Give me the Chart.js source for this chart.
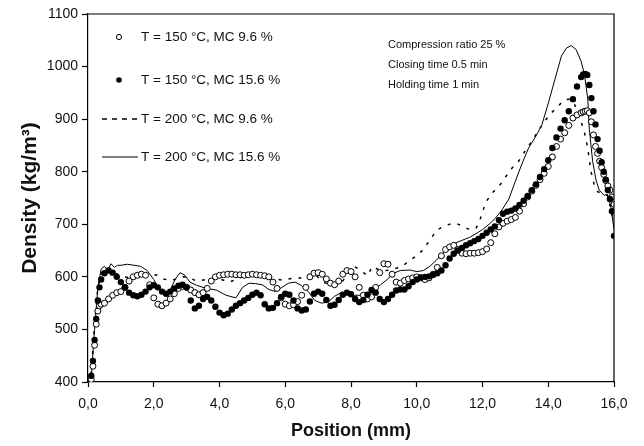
<!DOCTYPE html>
<html>
<head>
<meta charset="utf-8">
<script src="https://cdn.jsdelivr.net/npm/chart.js@4.4.1/dist/chart.umd.min.js"></script>
<style>
html,body{margin:0;padding:0;background:#fff;}
#wrap{width:644px;height:446px;position:relative;}
</style>
</head>
<body>
<div id="wrap"><canvas id="c" width="644" height="446"></canvas></div>
<script>
// ---- DATA ----
const seriesNames = [
  'T = 150 °C, MC 9.6 %',
  'T = 150 °C, MC 15.6 %',
  'T = 200 °C, MC 9.6 %',
  'T = 200 °C, MC 15.6 %'
];
const annotations = ['Compression ratio 25 %', 'Closing time 0.5 min', 'Holding time 1 min'];
const xTickLabels = ['0,0','2,0','4,0','6,0','8,0','10,0','12,0','14,0','16,0'];
const yTickValues = [400,500,600,700,800,900,1000,1100];

// positions (mm) of the marker series
const markerPos = [0.1,0.15,0.2,0.25,0.3,0.35,0.4,
  0.5,0.625,0.75,0.875,1.0,1.125,1.25,1.375,1.5,1.625,1.75,1.875,
  2.0,2.125,2.25,2.375,2.5,2.625,2.75,2.875,3.0,3.125,3.25,3.375,3.5,3.625,3.75,3.875,
  4.0,4.125,4.25,4.375,4.5,4.625,4.75,4.875,5.0,5.125,5.25,5.375,5.5,5.625,5.75,5.875,
  6.0,6.125,6.25,6.375,6.5,6.625,6.75,6.875,7.0,7.125,7.25,7.375,7.5,7.625,7.75,7.875,
  8.0,8.125,8.25,8.375,8.5,8.625,8.75,8.875,9.0,9.125,9.25,9.375,9.5,9.625,9.75,9.875,
  10.0,10.125,10.25,10.375,10.5,10.625,10.75,10.875,11.0,11.125,11.25,11.375,11.5,11.625,11.75,11.875,
  12.0,12.125,12.25,12.375,12.5,12.625,12.75,12.875,13.0,13.125,13.25,13.375,13.5,13.625,13.75,13.875,
  14.0,14.125,14.25,14.375,14.5,14.625,14.75,14.875,
  15.0,15.0625,15.125,15.1875,15.25,15.3125,15.375,15.4375,15.5,15.5625,15.625,15.6875,15.75,15.8125,15.875,15.9375,16.0];

// T = 150 °C, MC 9.6 % (open circles)
const dens150mc96 = [405,430,470,510,535,545,548,
  550,558,565,570,572,580,592,600,603,605,603,585,
  560,548,545,550,558,568,578,582,580,575,570,566,570,578,592,600,
  603,604,605,605,604,604,603,604,605,604,603,602,600,590,578,560,
  548,545,547,553,565,580,600,607,608,605,596,588,585,592,605,612,
  610,600,580,565,558,562,580,608,625,624,605,590,588,593,596,598,
  600,598,595,598,605,618,640,652,657,660,652,645,644,645,645,646,
  648,653,665,682,695,702,706,709,713,725,739,752,763,774,785,797,
  810,828,848,862,874,888,902,908,
  912,914,915,916,912,895,870,848,835,820,808,795,783,773,765,752,738];

// T = 150 °C, MC 15.6 % (filled circles)
const dens150mc156 = [412,440,480,520,555,580,595,
  607,612,608,600,590,580,570,565,563,566,572,580,
  584,580,572,568,572,578,583,585,580,555,540,545,558,562,555,543,
  532,527,530,538,545,550,555,560,566,570,565,548,540,541,550,562,
  568,566,555,540,536,538,553,568,572,568,556,545,547,556,566,570,
  567,558,552,556,566,575,570,558,552,558,566,574,576,576,582,590,
  595,599,600,601,604,607,612,622,635,644,650,655,660,664,668,672,
  678,684,690,696,708,720,724,726,730,737,745,754,765,776,790,805,
  822,845,865,882,898,915,938,962,
  980,985,986,984,965,940,915,890,862,840,818,800,785,765,748,725,678];

// T = 200 °C, MC 9.6 % (dashed line)
const pos200mc96 = [0.1,0.2,0.3,0.4,0.5,0.6,0.7,0.9,1.1,1.3,1.5,1.7,1.9,2.1,2.3,2.5,2.7,2.9,3.1,3.3,3.5,3.7,3.9,
  4.1,4.3,4.5,4.7,4.9,5.1,5.3,5.5,5.7,5.9,6.1,6.3,6.5,6.7,6.9,7.1,7.3,7.5,7.7,7.9,8.1,8.3,8.5,8.65,8.8,
  9.0,9.2,9.4,9.6,9.8,10.0,10.2,10.4,10.6,10.8,11.0,11.2,11.4,11.6,11.8,11.9,12.1,12.3,12.5,12.7,12.9,
  13.1,13.3,13.5,13.7,13.9,14.1,14.3,14.5,14.65,14.8,14.95,15.1,15.2,15.3,15.4,15.5,15.65,15.8,15.9,16.0];
const dens200mc96 = [415,510,580,605,615,610,612,605,600,598,600,602,606,603,596,593,596,600,598,592,594,596,598,
  594,590,595,600,602,603,606,602,596,594,596,598,598,604,606,592,586,585,588,605,620,612,602,620,615,
  612,613,617,622,632,640,652,670,688,696,700,702,696,690,692,704,742,760,772,790,807,
  820,840,858,878,897,912,925,937,938,928,905,875,845,800,775,762,758,755,730,700];

// T = 200 °C, MC 15.6 % (solid line)
const pos200mc156 = [0.1,0.2,0.3,0.4,0.5,0.6,0.7,0.8,0.9,1.0,1.2,1.4,1.6,1.8,2.0,2.2,2.35,2.5,2.65,2.8,2.95,3.1,3.3,3.6,3.9,
  4.2,4.5,4.7,4.9,5.1,5.3,5.5,5.7,5.9,6.1,6.3,6.5,6.7,6.9,7.1,7.3,7.5,7.7,7.9,8.1,8.3,8.5,8.7,8.9,
  9.1,9.3,9.5,9.8,10.0,10.2,10.4,10.6,10.8,11.0,11.2,11.4,11.6,11.8,12.0,12.2,12.4,12.6,12.8,
  13.0,13.2,13.4,13.6,13.8,14.0,14.2,14.4,14.55,14.7,14.85,15.0,15.1,15.2,15.25,15.35,15.45,15.55,15.7,15.8,15.9,16.0];
const dens200mc156 = [410,500,580,615,620,612,625,618,622,622,624,622,620,612,595,572,566,575,595,608,603,590,584,578,575,
  565,560,580,588,587,585,576,572,580,588,590,583,572,555,550,552,563,570,568,565,565,568,575,585,
  595,607,612,613,610,612,620,632,645,657,665,670,675,682,690,700,712,728,748,
  782,815,845,865,888,930,975,1020,1035,1040,1032,1010,985,940,880,820,785,765,755,757,735,690];

// ---- CHART ----
const FONT = '"Liberation Sans", Arial, sans-serif';
function pts(xs, ys){ return xs.map((x,i)=>({x:x, y:ys[i]})); }

const framePlugin = {
  id:'frame',
  afterDatasetsDraw(chart){
    const {ctx, chartArea:a} = chart;
    ctx.save();
    ctx.strokeStyle='#000'; ctx.lineWidth=1.2;
    ctx.beginPath();
    ctx.moveTo(a.left, a.top); ctx.lineTo(a.right, a.top); ctx.lineTo(a.right, a.bottom);
    ctx.stroke();
    // legend
    ctx.fillStyle='#111';
    ctx.font = '13.5px ' + FONT;
    ctx.textBaseline='middle'; ctx.textAlign='left';
    const rows=[37,80,119,157];
    ctx.beginPath(); ctx.arc(119, rows[0], 2.6, 0, Math.PI*2);
    ctx.fillStyle='#fff'; ctx.fill(); ctx.lineWidth=1; ctx.strokeStyle='#000'; ctx.stroke();
    ctx.beginPath(); ctx.arc(119, rows[1], 2.8, 0, Math.PI*2);
    ctx.fillStyle='#000'; ctx.fill();
    ctx.lineWidth=1.5; ctx.setLineDash([5,5]);
    ctx.beginPath(); ctx.moveTo(102, rows[2]); ctx.lineTo(139, rows[2]); ctx.stroke();
    ctx.setLineDash([]); ctx.lineWidth=1;
    ctx.beginPath(); ctx.moveTo(102, rows[3]); ctx.lineTo(138, rows[3]); ctx.stroke();
    ctx.fillStyle='#111';
    seriesNames.forEach((n,i)=>ctx.fillText(n, 141, rows[i]));
    ctx.font = '11px ' + FONT;
    annotations.forEach((t,i)=>ctx.fillText(t, 388, 45 + i*20));
    ctx.restore();
  }
};

new Chart(document.getElementById('c'), {
  type:'line',
  data:{
    datasets:[
      {label:seriesNames[0], data:pts(markerPos, dens150mc96), showLine:false,
        pointStyle:'circle', pointRadius:3, pointBorderWidth:1, pointBorderColor:'#000', pointBackgroundColor:'#fff', order:2},
      {label:seriesNames[1], data:pts(markerPos, dens150mc156), showLine:false,
        pointStyle:'circle', pointRadius:3.2, pointBorderWidth:0, pointBorderColor:'#000', pointBackgroundColor:'#000', order:1},
      {label:seriesNames[2], data:pts(pos200mc96, dens200mc96), borderColor:'#000', borderWidth:1.5,
        borderDash:[3,7], pointRadius:0, tension:0, fill:false, order:3},
      {label:seriesNames[3], data:pts(pos200mc156, dens200mc156), borderColor:'#000', borderWidth:1,
        pointRadius:0, tension:0, fill:false, order:4}
    ]
  },
  options:{
    responsive:false, animation:false, devicePixelRatio:1,
    layout:{padding:{top:14, right:30, left:14, bottom:0}},
    plugins:{legend:{display:false}, tooltip:{enabled:false}},
    scales:{
      x:{type:'linear', min:0, max:16,
        afterFit(s){ s.height = 64; },
        border:{display:true, color:'#000', width:1.2},
        grid:{display:true, drawOnChartArea:false, drawTicks:true, tickLength:5, color:'#000', tickWidth:1.2},
        ticks:{stepSize:2, color:'#111', font:{family:FONT, size:14}, padding:9, maxRotation:0,
          callback:(v)=>xTickLabels[Math.round(v/2)]},
        title:{display:true, text:'Position (mm)', color:'#111', font:{family:FONT, size:18, weight:'bold'}, padding:{top:2}}
      },
      y:{type:'linear', min:400, max:1100,
        afterFit(s){ s.width = 74; },
        afterBuildTicks(s){ s.ticks = yTickValues.map(v=>({value:v})); },
        border:{display:true, color:'#000', width:1.2},
        grid:{display:true, drawOnChartArea:false, drawTicks:true, tickLength:6, color:'#000', tickWidth:1.2},
        ticks:{color:'#111', font:{family:FONT, size:14}, padding:4, callback:(v)=>String(v)},
        title:{display:true, text:'Density (kg/m³)', color:'#111', font:{family:FONT, size:21, weight:'bold'}, padding:{bottom:0}}
      }
    }
  },
  plugins:[framePlugin]
});
</script>
</body>
</html>
